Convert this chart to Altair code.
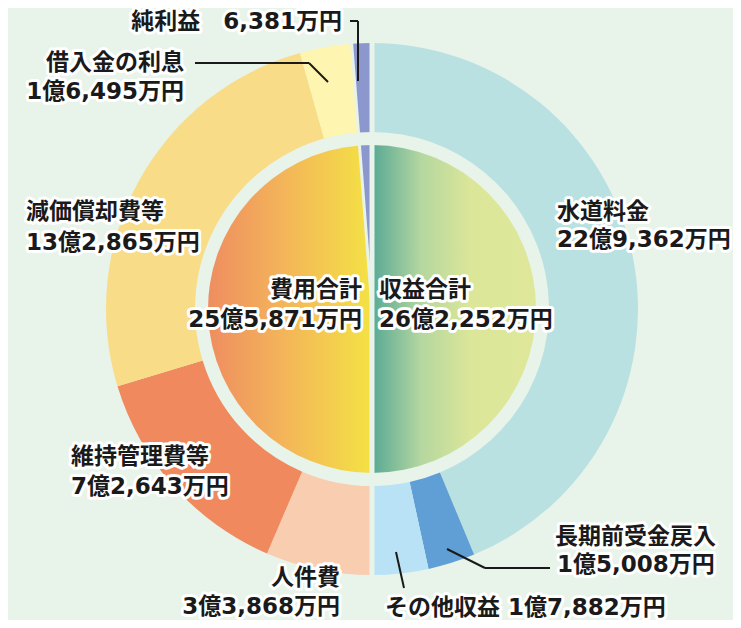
import math
import altair as alt
import pandas as pd

# ---------------- data (万円) ----------------
categories = ["水道料金", "長期前受金戻入", "その他収益",
              "人件費", "維持管理費等", "減価償却費等", "借入金の利息", "純利益"]
values = [229362, 15008, 17882, 33868, 72643, 132865, 16495, 6381]

inner_categories = ["収益合計", "費用合計", "純利益"]
inner_values = [262252, 255871, 6381]

label_lines = ["純利益　6,381万円",
               "借入金の利息", "1億6,495万円",
               "減価償却費等", "13億2,865万円",
               "維持管理費等", "7億2,643万円",
               "人件費", "3億3,868万円",
               "その他収益 1億7,882万円",
               "長期前受金戻入", "1億5,008万円",
               "水道料金", "22億9,362万円",
               "費用合計", "25億5,871万円",
               "収益合計", "26億2,252万円"]

# ---------------- styling / layout ----------------
colors = ["#bae1e1", "#5f9fd6", "#b9e2f6",
          "#f9cdb0", "#f08a5e", "#f8dc88", "#fef6b0", "#8c97cd"]
BG = "#e8f3ea"
OFF = 8  # page margin
CX, CY = 372 - OFF, 309 - OFF
R_OUT, R_RING_IN, R_PIE = 266, 177, 164
FONT = "DejaVu Sans, Noto Sans CJK JP"
FS = 23

label_x = [342, 184, 184, 26, 26, 71, 71, 340, 340, 385, 555, 557, 557, 557, 362, 362, 379, 379]
label_y = [22, 63, 92, 212, 243, 457, 487, 578, 607, 608, 537, 565, 212, 240, 290, 320, 290, 320]
label_align = ["right", "right", "right", "left", "left", "left", "left", "right", "right",
               "left", "left", "left", "left", "left", "right", "right", "left", "left"]

# leader line segments (page coords)
seg_x = [350, 358, 195, 309, 447, 485, 396]
seg_y = [21, 21, 63, 63, 549, 568, 552]
seg_x2 = [358, 358, 309, 328, 485, 550, 404]
seg_y2 = [21, 81, 63, 82, 568, 568, 588]

# ---------------- build tables ----------------
FULL = sum(values)
theta_scale = alt.Scale(domain=[0, FULL], range=[0, 2 * math.pi])

starts, ends, acc = [], [], 0
for v in values:
    starts.append(acc)
    acc += v
    ends.append(acc)
df_outer = pd.DataFrame({"cat": categories, "value": values, "start": starts, "end": ends})

i_starts, i_ends, acc = [], [], 0
for v in inner_values:
    i_starts.append(acc)
    acc += v
    i_ends.append(acc)
df_inner = pd.DataFrame({"cat": inner_categories, "start": i_starts, "end": i_ends})

# boundaries where the picture shows gaps: top, bottom, and before 純利益
df_gap = pd.DataFrame({"b": [0, starts[3], starts[7]], "w": [5, 5, 3]})

df_lab = pd.DataFrame({"text": label_lines,
                       "x": [v - OFF for v in label_x],
                       "y": [v - OFF for v in label_y],
                       "align": label_align})
df_seg = pd.DataFrame({"x": [v - OFF for v in seg_x], "y": [v - OFF for v in seg_y],
                       "x2": [v - OFF for v in seg_x2], "y2": [v - OFF for v in seg_y2]})

center = dict(x=alt.value(CX), y=alt.value(CY))

outer = alt.Chart(df_outer).mark_arc(radius=R_OUT, radius2=R_RING_IN).encode(
    theta=alt.Theta("start:Q", scale=theta_scale),
    theta2="end:Q",
    color=alt.Color("cat:N", scale=alt.Scale(domain=categories, range=colors), legend=None),
    **center,
)

grad_right = alt.Gradient(
    gradient="linear", x1=0, x2=1, y1=0, y2=0,
    stops=[alt.GradientStop(color="#58a994", offset=0),
           alt.GradientStop(color="#b5d7a0", offset=0.3),
           alt.GradientStop(color="#dbe698", offset=0.6),
           alt.GradientStop(color="#dfe89a", offset=1)])
grad_left = alt.Gradient(
    gradient="linear", x1=0, x2=1, y1=0, y2=0,
    stops=[alt.GradientStop(color="#ef8d60", offset=0),
           alt.GradientStop(color="#f3b45a", offset=0.45),
           alt.GradientStop(color="#f4e244", offset=1)])

inner_right = alt.Chart(df_inner).transform_filter(alt.datum.cat == "収益合計").mark_arc(
    radius=R_PIE, radius2=0, color=grad_right).encode(
    theta=alt.Theta("start:Q", scale=theta_scale), theta2="end:Q", **center)
inner_left = alt.Chart(df_inner).transform_filter(alt.datum.cat == "費用合計").mark_arc(
    radius=R_PIE, radius2=0, color=grad_left).encode(
    theta=alt.Theta("start:Q", scale=theta_scale), theta2="end:Q", **center)
inner_profit = alt.Chart(df_inner).transform_filter(alt.datum.cat == "純利益").mark_arc(
    radius=R_PIE, radius2=0, color=colors[7]).encode(
    theta=alt.Theta("start:Q", scale=theta_scale), theta2="end:Q", **center)

gaps = alt.Chart(df_gap).mark_arc(radius=R_OUT + 6, radius2=0, stroke=BG, fill=BG).encode(
    theta=alt.Theta("b:Q", scale=theta_scale), theta2="b:Q",
    strokeWidth=alt.StrokeWidth("w:Q", scale=None), **center)

segs = alt.Chart(df_seg).mark_rule(color="#1a1a1a", strokeWidth=2).encode(
    x=alt.X("x:Q", scale=None, axis=None), y=alt.Y("y:Q", scale=None, axis=None),
    x2="x2:Q", y2="y2:Q")


def text_layer(align, halo):
    kw = dict(align=align, baseline="middle", font=FONT, fontSize=FS, fontWeight="bold")
    if halo:
        kw.update(stroke="white", strokeWidth=6, strokeJoin="round", color="white")
    else:
        kw.update(color="#1a1a1a")
    return alt.Chart(df_lab).transform_filter(alt.datum.align == align).mark_text(**kw).encode(
        x=alt.X("x:Q", scale=None, axis=None), y=alt.Y("y:Q", scale=None, axis=None),
        text="text:N")


chart = alt.layer(
    outer, inner_right, inner_left, inner_profit, gaps, segs,
    text_layer("left", True), text_layer("right", True),
    text_layer("left", False), text_layer("right", False),
).properties(
    width=725, height=612, autosize=alt.AutoSizeParams(type="none"), padding=0,
    background=BG,
).configure_view(stroke=None)

chart.save("out.html", embed_options={"renderer": "svg", "actions": False})
